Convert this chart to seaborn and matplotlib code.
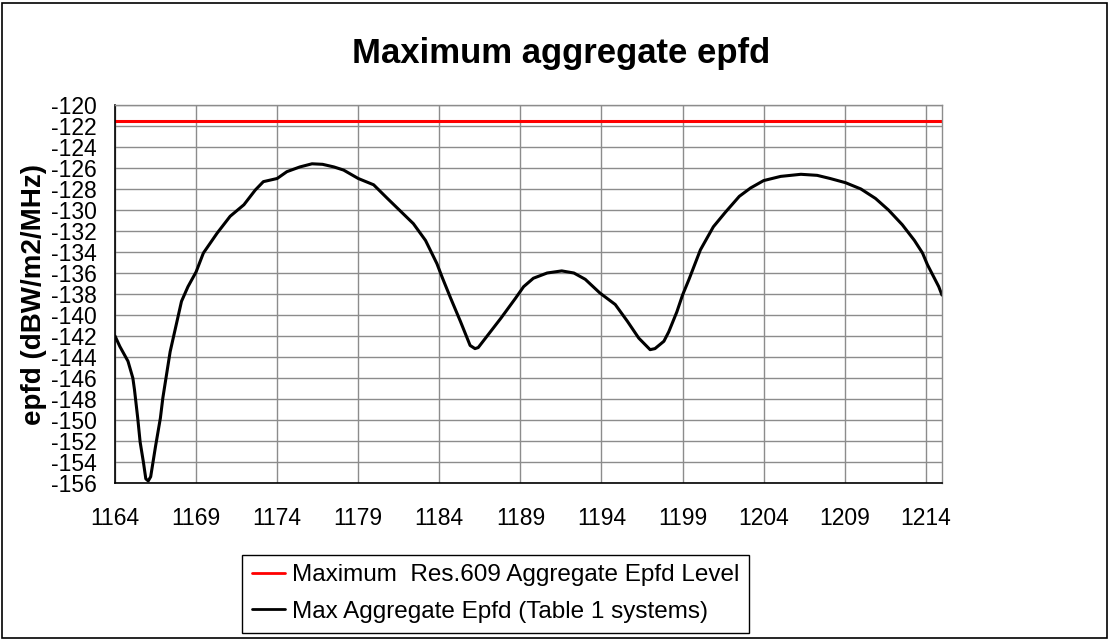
import pandas as pd
import matplotlib.pyplot as plt
import seaborn as sns
import numpy as np
from matplotlib.patches import Rectangle

# frequency (MHz) and max aggregate epfd (dBW/m2/MHz)
freq = [1164.0, 1164.3, 1164.8, 1165.1, 1165.2, 1165.4, 1165.55, 1165.75, 1165.9, 1166.05,
        1166.2, 1166.5, 1166.8, 1166.95, 1167.4, 1168.1, 1168.5, 1169.0, 1169.45, 1170.3,
        1171.1, 1171.95, 1172.65, 1173.15, 1174.0, 1174.6, 1175.4, 1176.15, 1176.8, 1177.5,
        1178.1, 1179.0, 1179.95, 1180.8, 1181.6, 1182.4, 1183.15, 1183.85, 1184.2, 1184.7,
        1185.3, 1185.9, 1186.2, 1186.4, 1186.85, 1187.8, 1188.7, 1189.2, 1189.8, 1190.65,
        1191.55, 1192.3, 1193.0, 1193.9, 1194.85, 1195.6, 1196.3, 1197.0, 1197.3, 1197.85,
        1198.15, 1198.65, 1199.0, 1199.4, 1199.7, 1200.1, 1200.9, 1201.65, 1202.5, 1203.2,
        1204.0, 1205.05, 1206.3, 1207.3, 1208.1, 1209.05, 1210.0, 1210.9, 1211.7, 1212.55,
        1213.3, 1213.8, 1214.1, 1214.5, 1214.8, 1215.0]
epfd = [-142.0, -143.0, -144.4, -146.0, -147.1, -149.8, -152.1, -154.0, -155.6, -155.8,
        -155.4, -152.5, -149.8, -147.9, -143.5, -138.7, -137.3, -135.9, -134.1, -132.2,
        -130.6, -129.5, -128.1, -127.3, -127.0, -126.35, -125.9, -125.6, -125.65, -125.9,
        -126.2, -127.0, -127.6, -128.9, -130.1, -131.3, -132.9, -135.1, -136.5, -138.4,
        -140.6, -142.9, -143.2, -143.1, -142.2, -140.3, -138.4, -137.3, -136.5, -136.0,
        -135.8, -136.0, -136.6, -137.9, -139.0, -140.6, -142.2, -143.3, -143.2, -142.5,
        -141.6, -139.7, -138.1, -136.6, -135.4, -133.8, -131.6, -130.2, -128.7, -127.9,
        -127.2, -126.8, -126.6, -126.7, -127.0, -127.4, -128.0, -128.9, -130.0, -131.4,
        -132.9, -134.1, -135.2, -136.4, -137.3, -138.1]
limit_level = -121.5
limit_label = "Maximum  Res.609 Aggregate Epfd Level"
curve_label = "Max Aggregate Epfd (Table 1 systems)"

sns.set_theme(style="white")
plt.rcParams['font.family'] = ['Liberation Sans', 'DejaVu Sans']
plt.rcParams['axes.unicode_minus'] = False
plt.rcParams['text.color'] = 'black'

limit_df = pd.DataFrame({'freq': [freq[0], freq[-1]], 'epfd': [limit_level, limit_level],
                         'series': limit_label})
curve_df = pd.DataFrame({'freq': freq, 'epfd': epfd, 'series': curve_label})
df = pd.concat([limit_df, curve_df], ignore_index=True)

fig = plt.figure(figsize=(11.09, 6.39), dpi=100)
ax = fig.add_axes([0.1037, 0.2441, 0.7457, 0.5916])

sns.lineplot(data=df, x='freq', y='epfd', hue='series', hue_order=[limit_label, curve_label],
             palette={limit_label: '#ff0000', curve_label: 'black'}, linewidth=2.2,
             sort=False, ax=ax, legend=False)

ax.set_xlim(1164, 1215)
ax.set_ylim(-156, -120)
ax.set_xticks(np.arange(1164, 1215, 5))
ax.set_yticks(np.arange(-156, -119, 2))
ax.grid(True, color='#8c8c8c', linewidth=1)
ax.set_axisbelow(True)
for s in ['top', 'right']:
    ax.spines[s].set_color('#8c8c8c')
    ax.spines[s].set_linewidth(1)
for s in ['left', 'bottom']:
    ax.spines[s].set_color('black')
    ax.spines[s].set_linewidth(1.2)
ax.tick_params(axis='both', direction='out', length=6, width=1, color='black',
               labelsize=16.5, labelcolor='black')
ax.tick_params(axis='x', pad=11)
ax.tick_params(axis='y', pad=7)
ax.set_xlabel('')
ax.set_ylabel('epfd (dBW/m2/MHz)', fontsize=20, fontweight='bold', labelpad=3, color='black')

fig.suptitle('Maximum aggregate epfd', x=0.506, y=0.942, fontsize=25, fontweight='bold',
             color='black')

handles = [plt.Line2D([], [], color='#ff0000', linewidth=2),
           plt.Line2D([], [], color='black', linewidth=2)]
leg = fig.legend(handles, [limit_label, curve_label], loc='center', bbox_to_anchor=(0.447, 0.071),
                 fontsize=17.5, frameon=True, fancybox=False, framealpha=1, edgecolor='black',
                 handlelength=1.35, handletextpad=0.3, borderpad=0.4, labelspacing=0.6,
                 borderaxespad=0)
leg.get_frame().set_linewidth(1)

fig.patches.append(Rectangle((0.002, 0.002), 0.996, 0.994, transform=fig.transFigure,
                             fill=False, edgecolor='black', linewidth=1.2))

plt.savefig('out.png', dpi=100)
